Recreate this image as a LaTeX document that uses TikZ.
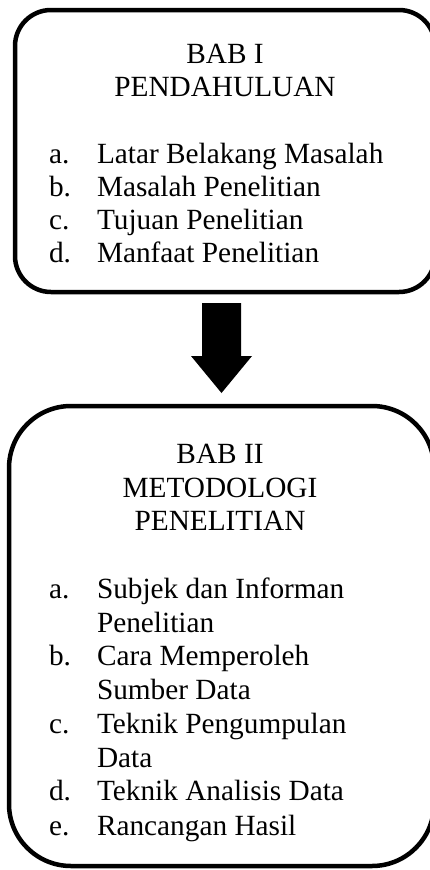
\documentclass[tikz,border=0pt]{standalone}
\usepackage{fontspec}
\setmainfont{Liberation Serif}
\usetikzlibrary{calc}
\begin{document}
\begin{tikzpicture}[x=1pt,y=-1pt,
  chapbox/.style={draw, line width=4.5pt, rounded corners=#1, inner sep=0pt, outer sep=0pt},
  txt/.style={anchor=base, inner sep=0pt, outer sep=0pt, font=\fontsize{29.3}{34}\selectfont},
  lbl/.style={txt, anchor=base west},
  blockarrow/.style={fill=black, draw=none}
]
\useasboundingbox (0,0) rectangle (430,870);
% boxes
\node[chapbox=36pt, minimum width=420pt, minimum height=282pt] (box1) at (225,151) {};
\node[chapbox=62pt, minimum width=425pt, minimum height=460pt] (box2) at (221.5,636) {};
% box 1 text
\node[txt] (t1a) at (225,63) {BAB I};
\node[txt] (t1b) at (225,96) {PENDAHULUAN};
\node[lbl] (l1a) at (49,163) {a.};
\node[lbl] (i1a) at (97,163) {Latar Belakang Masalah};
\node[lbl] (l1b) at (49,196) {b.};
\node[lbl] (i1b) at (97,196) {Masalah Penelitian};
\node[lbl] (l1c) at (49,229) {c.};
\node[lbl] (i1c) at (97,229) {Tujuan Penelitian};
\node[lbl] (l1d) at (49,262) {d.};
\node[lbl] (i1d) at (97,262) {Manfaat Penelitian};
% box 2 text
\node[txt] (t2a) at (220,463) {BAB II};
\node[txt] (t2b) at (220,497) {METODOLOGI};
\node[txt] (t2c) at (220,530) {PENELITIAN};
\node[lbl] (l2a) at (49,598) {a.};
\node[lbl] (i2a) at (97,598) {Subjek dan Informan};
\node[lbl] (i2a2) at (97,632) {Penelitian};
\node[lbl] (l2b) at (49,665) {b.};
\node[lbl] (i2b) at (97,665) {Cara Memperoleh};
\node[lbl] (i2b2) at (97,699) {Sumber Data};
\node[lbl] (l2c) at (49,733) {c.};
\node[lbl] (i2c) at (97,733) {Teknik Pengumpulan};
\node[lbl] (i2c2) at (97,767) {Data};
\node[lbl] (l2d) at (49,800) {d.};
\node[lbl] (i2d) at (97,800) {Teknik Analisis Data};
\node[lbl] (l2e) at (49,835) {e.};
\node[lbl] (i2e) at (97,835) {Rancangan Hasil};
% block arrow from box1 to box2
\coordinate (atop) at ($(box1.south)+(-3.5,11)$);
\coordinate (atip) at ($(box2.north)+(0,-13)$);
\path[blockarrow] ($(atop)+(-19.5,0)$) -- ($(atop)+(19.5,0)$)
  -- ($(atip)+(19.5,-37)$) -- ($(atip)+(30.5,-37)$) -- (atip)
  -- ($(atip)+(-30.5,-37)$) -- ($(atip)+(-19.5,-37)$) -- cycle;
\end{tikzpicture}
\end{document}
